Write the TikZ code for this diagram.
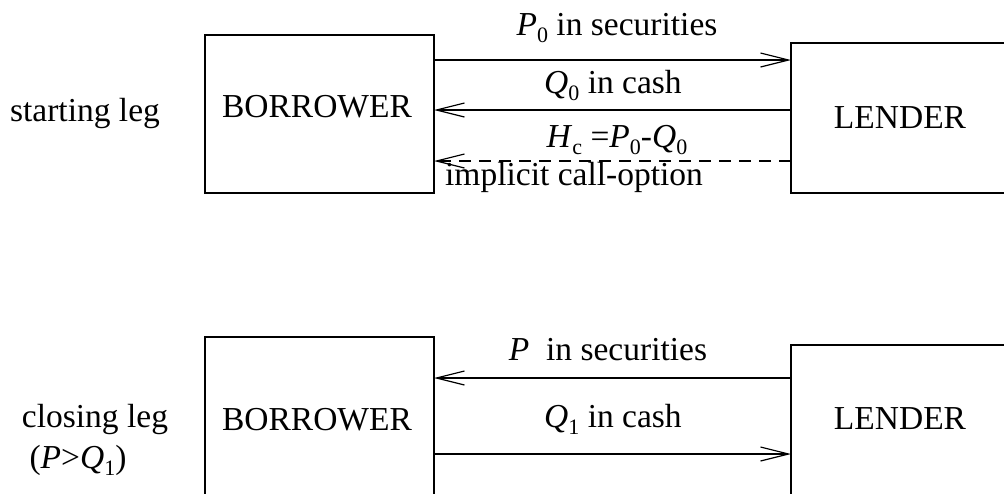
\documentclass[tikz,border=0pt]{standalone}
\usepackage{fontspec}
\setmainfont{Liberation Serif}
\usetikzlibrary{arrows.meta}
\newcommand{\mysub}[1]{\raisebox{-0.22em}{\fontsize{22}{22}\selectfont #1}}
\begin{document}
\begin{tikzpicture}[x=1pt,y=-1pt,
  every node/.style={font=\fontsize{33.5}{40}\selectfont, inner sep=0pt, outer sep=0pt},
  box/.style={draw, line width=1.3pt},
  txt/.style={anchor=base},
  flow/.style={line width=1.2pt, -{Straight Barb[length=28pt,width=14pt,line width=1.2pt]}},
  dashedflow/.style={flow, dash pattern=on 12pt off 8pt}]
\useasboundingbox (0,0) rectangle (1004,493);
\clip (0,0) rectangle (1004,493);
% boxes
\node[box, minimum width=229pt, minimum height=158pt] (bt) at (319.5,114) {};
\node[box, minimum width=249pt, minimum height=150pt] (lt) at (915.5,118) {};
\node[box, minimum width=229pt, minimum height=193pt] (bb) at (319.5,433.5) {};
\node[box, minimum width=249pt, minimum height=185pt] (lb) at (915.5,437.5) {};
% box texts
\node[txt] (btx) at (317,117) {BORROWER};
\node[txt] (ltx) at (900,128) {LENDER};
\node[txt] (bbx) at (317,430) {BORROWER};
\node[txt] (lbx) at (900,429) {LENDER};
% side labels
\node[txt] (start) at (85,121) {starting leg};
\node[txt] (close) at (95,427) {closing leg};
\node[txt] (cond) at (78,468) {(\textit{P}>\textit{Q}\mysub{1})};
% levels
\coordinate (ya) at (0,60);
\coordinate (yb) at (0,110);
\coordinate (yc) at (0,161);
\coordinate (yd) at (0,378);
\coordinate (ye) at (0,454);
% connectors
\draw[flow] (bt.east |- ya) -- (lt.west |- ya);
\draw[flow] (lt.west |- yb) -- (bt.east |- yb);
\draw[dashedflow] (lt.west |- yc) -- (bt.east |- yc);
\draw[flow] (lb.west |- yd) -- (bb.east |- yd);
\draw[flow] (bb.east |- ye) -- (lb.west |- ye);
% connector labels
\node[txt] (l1) at (617,35) {\textit{P}\mysub{0} in securities};
\node[txt] (l2) at (613,93) {\textit{Q}\mysub{0} in cash};
\node[txt] (l3) at (617,147) {\textit{H}\mysub{c} =\textit{P}\mysub{0}-\textit{Q}\mysub{0}};
\node[txt] (l4) at (574,185) {implicit call-option};
\node[txt] (l5) at (608,360) {\textit{P}\ \ in securities};
\node[txt] (l6) at (613,427) {\textit{Q}\mysub{1} in cash};
\end{tikzpicture}
\end{document}
